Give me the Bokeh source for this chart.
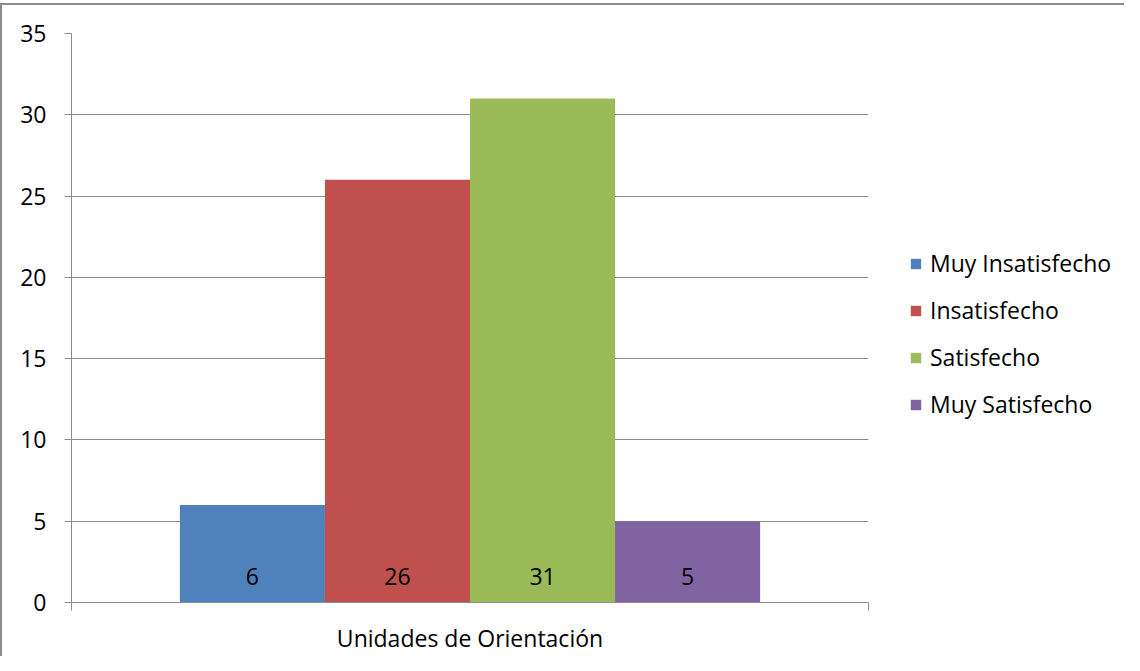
from bokeh.plotting import figure
from bokeh.models import ColumnDataSource, Legend, LegendItem, FixedTicker, Range1d
from bokeh.core.properties import value
from bokeh.embed import file_html
from bokeh.resources import INLINE

series = ["Muy Insatisfecho", "Insatisfecho", "Satisfecho", "Muy Satisfecho"]
values = [6, 26, 31, 5]
colors = ["#4F81BD", "#C0504D", "#9BBB59", "#8064A2"]
category = "Unidades de Orientación"
y_ticks = [0, 5, 10, 15, 20, 25, 30, 35]

FONT = "Open Sans"
FS = "23px"
GRAY = "#8c8c8c"

bar_w = 0.182
n = len(series)
xs = [0.5 + (i - (n - 1) / 2) * bar_w for i in range(n)]

p = figure(frame_width=797, frame_height=569, output_backend="svg", toolbar_location=None,
           x_range=Range1d(0, 1), y_range=Range1d(0, 35),
           min_border_left=69, min_border_right=0, min_border_top=28, min_border_bottom=45)
p.styles = {"border-left": "2px solid #8c8c8c", "border-top": "2px solid #8c8c8c",
            "margin-top": "3px", "max-width": "1124px", "overflow": "hidden"}
p.outline_line_color = None
p.background_fill_color = "white"
p.border_fill_color = "white"

items = []
for i in range(n):
    src = ColumnDataSource(dict(x=[xs[i]], top=[values[i]], lab=[str(values[i])]))
    r = p.vbar(x="x", top="top", bottom=0, width=bar_w, source=src,
               fill_color=colors[i], line_color=None)
    items.append(LegendItem(label=series[i], renderers=[r]))
    p.text(x="x", y=0, text="lab", source=src, text_align="center",
           text_baseline="middle", y_offset=-26, text_font=value(FONT),
           text_font_size=FS, text_color="black")

# axes
p.yaxis.ticker = FixedTicker(ticks=y_ticks)
p.yaxis.axis_line_color = GRAY
p.yaxis.major_tick_line_color = GRAY
p.yaxis.major_tick_out = 7
p.yaxis.major_tick_in = 0
p.yaxis.minor_tick_line_color = None
p.yaxis.major_label_standoff = 18
p.yaxis.major_label_text_font = FONT
p.yaxis.major_label_text_font_size = FS
p.yaxis.major_label_text_color = "black"

p.xaxis.ticker = FixedTicker(ticks=[0, 1])
p.xaxis.major_label_text_font_size = "0px"
p.xaxis.axis_line_color = GRAY
p.xaxis.major_tick_line_color = GRAY
p.xaxis.major_tick_out = 8
p.xaxis.major_tick_in = 0
p.xaxis.minor_tick_line_color = None
p.xaxis.axis_label = category
p.xaxis.axis_label_text_font = FONT
p.xaxis.axis_label_text_font_size = FS
p.xaxis.axis_label_text_font_style = "normal"
p.xaxis.axis_label_text_color = "black"
p.xaxis.axis_label_standoff = 11

p.xgrid.grid_line_color = None
p.ygrid.grid_line_color = GRAY
p.ygrid.ticker = FixedTicker(ticks=y_ticks)

legend = Legend(items=items, location=(41, 182), orientation="vertical",
                glyph_width=13, glyph_height=13, label_standoff=8,
                label_height=24, spacing=15, padding=0, margin=0,
                border_line_color=None, background_fill_alpha=0,
                label_text_font=FONT, label_text_font_size=FS,
                label_text_color="black")
p.add_layout(legend, "right")

open("out.html", "w").write(file_html(p, INLINE))
